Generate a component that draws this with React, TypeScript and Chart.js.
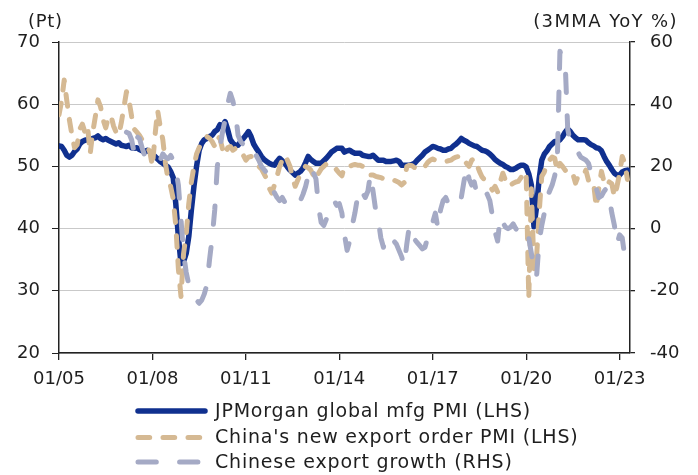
import React, { useEffect, useRef } from 'react';
import { Chart, registerables } from 'chart.js';

Chart.register(...registerables);

// Monthly data, Jan 2005 (index 0) .. Apr 2023 (index 219)
const X_TICK_MONTHS = [0, 36, 72, 108, 144, 180, 216];
const X_TICK_LABELS = ['01/05', '01/08', '01/11', '01/14', '01/17', '01/20', '01/23'];
const X_MAX_MONTH = 220;

const SERIES_NAMES = [
  'JPMorgan global mfg PMI (LHS)',
  "China's new export order PMI (LHS)",
  'Chinese export growth (RHS)',
];

const JPM_GLOBAL_PMI = [
  53.3, 53.2, 52.6, 51.8, 51.5, 51.8, 52.4, 52.8, 53.6, 54.0, 54.2, 54.3,
  54.3, 54.5, 54.6, 54.9, 54.5, 54.3, 54.5, 54.2, 54.0, 53.8, 53.6, 53.8,
  53.4, 53.3, 53.2, 53.4, 53.0, 52.9, 53.0, 52.7, 52.5, 52.3, 52.6, 52.3,
  52.0, 51.6, 51.2, 50.8, 50.5, 50.2, 49.9, 49.2, 48.2, 44.0, 38.7, 34.4,
  34.7, 36.0, 38.7, 43.0, 46.8, 50.0, 52.6, 53.7, 54.3, 54.5, 54.8, 55.0,
  55.6, 55.9, 56.7, 56.4, 57.2, 55.9, 54.3, 53.7, 53.4, 53.4, 54.0, 54.5,
  55.0, 55.6, 54.8, 53.6, 52.9, 52.3, 51.6, 51.1, 50.8, 50.5, 50.3, 50.2,
  50.8, 51.3, 50.9, 50.5, 49.9, 49.4, 49.0, 48.6, 48.9, 49.2, 49.7, 50.6,
  51.6, 51.1, 50.8, 50.5, 50.5, 50.5, 50.9, 51.3, 51.8, 52.3, 52.6, 52.9,
  52.9, 52.9, 52.3, 52.5, 52.6, 52.3, 52.1, 52.1, 52.1, 51.8, 51.7, 51.6,
  51.6, 51.8, 51.4, 51.0, 51.0, 51.0, 50.8, 50.8, 50.8, 50.9, 51.0, 50.8,
  50.2, 50.2, 50.2, 50.2, 50.3, 50.5, 51.0, 51.4, 51.8, 52.3, 52.6, 52.9,
  53.2, 53.1, 52.9, 52.8, 52.6, 52.6, 52.8, 52.9, 53.3, 53.6, 54.0, 54.5,
  54.2, 54.0, 53.7, 53.5, 53.3, 53.2, 52.9, 52.6, 52.5, 52.3, 52.0, 51.6,
  51.1, 50.8, 50.5, 50.3, 50.0, 49.8, 49.5, 49.5, 49.7, 50.0, 50.2, 50.2,
  49.9, 48.8, 47.0, 40.3, 43.5, 48.0, 51.0, 52.0, 52.5, 53.2, 53.6, 54.0,
  54.0, 54.3, 54.8, 55.5, 56.0, 55.6, 55.0, 54.6, 54.3, 54.3, 54.3, 54.2,
  53.8, 53.5, 53.3, 53.0, 52.9, 52.5, 51.6, 50.8, 50.2, 49.5, 48.9, 48.6,
  48.6, 49.1, 49.3, 49.4,
];

const CHINA_NEW_EXPORT_ORDERS = [
  58.3, 60.5, 63.9, 60.6, 57.5, 55.0, 53.0, 53.5, 56.0, 56.8, 55.5, 56.5,
  52.0, 55.5, 58.0, 60.7, 59.6, 57.5, 56.2, 57.8, 58.2, 56.5, 55.5, 55.0,
  57.0, 59.5, 62.0, 60.5, 58.0, 56.0, 55.5, 55.0, 54.3, 53.7, 53.2, 52.3,
  50.0, 55.0, 59.0, 56.4, 54.3, 50.5, 48.0, 46.8, 44.8, 40.5, 33.5, 29.1,
  36.0, 39.0, 44.0, 47.5, 50.0, 52.0, 53.0, 53.8, 54.3, 54.8, 54.5, 54.0,
  53.2, 54.8, 54.5, 52.8, 51.8, 53.0, 53.2, 52.6, 52.9, 53.0, 52.6, 51.8,
  51.0, 51.5, 51.6, 50.8, 50.3, 50.0, 49.6, 48.8, 48.0, 46.5, 45.7, 47.0,
  48.4, 50.0, 51.0, 51.8, 51.0, 50.0, 48.2, 46.8, 47.8, 48.8, 49.5, 50.0,
  49.8, 49.4, 48.6, 47.8, 48.9, 49.6, 50.0, 50.4, 50.5, 50.2, 50.0, 49.4,
  48.9, 48.5, 50.0, 49.9, 50.0, 50.2, 50.3, 50.2, 50.2, 50.0, 49.8, 49.5,
  48.6, 48.6, 48.4, 48.3, 48.2, 48.0, 47.8, 47.9, 47.8, 47.8, 47.6, 47.4,
  47.0, 47.4, 50.0, 50.2, 50.1, 49.8, 49.7, 49.6, 49.5, 50.0, 50.6, 51.0,
  51.2, 51.0, 51.0, 50.8, 50.8, 50.8, 50.9, 51.0, 51.3, 51.5, 51.6, 51.8,
  51.0, 50.5, 50.0, 51.0, 51.3, 50.3, 49.2, 48.3, 47.8, 47.3, 46.8, 46.2,
  46.8, 45.9, 47.5, 48.9, 47.8, 46.8, 47.0, 47.3, 47.5, 47.6, 48.2, 49.2,
  48.7, 28.7, 46.4, 33.5, 35.3, 42.6, 48.4, 49.1, 50.8, 51.0, 51.5, 51.3,
  49.2, 50.5, 50.0, 49.4, 48.9, 48.5, 48.8, 47.3, 48.4, 48.2, 48.5, 49.4,
  47.8, 48.0, 47.2, 43.5, 46.5, 49.2, 47.5, 46.8, 47.5, 47.2, 45.1, 46.8,
  48.9, 51.6, 50.5, 47.9,
];

const CHINA_EXPORT_GROWTH = [
  null, null, null, null, null, null, null, null, null, null, null, null,
  null, null, null, null, null, null, null, null, null, null, null, null,
  null, null, 31.0, 30.6, 28.5, 24.2, 29.6, 29.0, 26.0, 23.5, 22.5, 22.5,
  22.0, 23.0, 22.5, 22.0, 24.0, 23.0, 22.5, 23.5, 22.0, 19.0, 14.0, 3.0,
  -8.0, -14.0, -18.0, -20.0, -21.5, -23.0, -24.0, -23.0, -21.0, -18.0, -10.0, -3.0,
  6.0, 20.0, 26.0, 31.0, 35.0, 40.0, 43.5, 41.0, 37.0, 30.0, 28.0, 27.0,
  28.0, 27.0, 25.0, 24.5, 23.5, 22.0, 20.0, 19.0, 18.0, 17.0, 14.0, 11.5,
  10.0, 9.0, 10.0, 8.5, 7.5, 7.5, 7.5, 7.0, 8.0, 9.0, 11.0, 13.5,
  17.0, 20.0, 18.0, 16.0, 7.0, 2.0, 1.0, 3.0, 5.0, 7.0, 9.0, 7.5,
  8.0, 5.0, -2.0, -7.0, -4.0, 1.0, 5.0, 10.0, 13.0, 11.5, 10.0, 12.0,
  17.5, 12.0, 6.0, 3.0, -3.0, -6.0, -2.0, -3.0, -3.5, -4.0, -5.0, -7.0,
  -9.0, -12.0, -5.0, 1.0, -2.0, -3.5, -4.5, -5.5, -6.5, -6.0, -3.0, 0.0,
  2.0, 5.0, 0.0, 6.0, 9.0, 10.0, 8.0, 8.0, 7.5, 7.0, 9.0, 10.0,
  15.0, 20.0, 16.0, 14.0, 15.0, 11.0, 12.0, 13.0, 12.5, 11.0, 9.0, 4.0,
  -1.0, -4.0, 4.0, 2.0, 0.5, 0.0, 0.5, 1.5, 0.0, -1.0, -0.5, 0.5,
  -1.0, -3.0, -8.0, -13.0, -15.5, -4.0, 1.0, 5.0, 10.0, 12.0, 14.0, 17.0,
  22.0, 57.0, 55.0, 54.0, 32.0, 28.0, 26.0, 25.0, 24.5, 23.0, 22.5, 22.0,
  21.0, 18.0, 15.0, 13.0, 10.0, 10.5, 12.0, 13.0, 10.0, 5.0, 1.0, -5.0,
  -2.0, -3.0, -9.0, null,
];

const LEFT_TITLE = '(Pt)';
const RIGHT_TITLE = '(3MMA YoY %)';

const FONT = '"DejaVu Sans", "Noto Sans", sans-serif';
const TEXT_COLOR = '#1e1e1e';
const AXIS_COLOR = '#222222';
const BLUE = '#10308f';
const TAN = '#d5b993';
const GREY = '#a5aac5';

const toPoints = (arr: (number | null)[]) => arr.map((v, i) => ({ x: i, y: v }));

const overlayPlugin = {
  id: 'overlayTexts',
  afterDraw(chart: any) {
    const { ctx, chartArea } = chart;
    ctx.save();
    ctx.fillStyle = TEXT_COLOR;
    ctx.textBaseline = 'alphabetic';
    ctx.font = `18px ${FONT}`;
    (ctx as any).letterSpacing = '0.7px';
    ctx.textAlign = 'left';
    ctx.fillText(LEFT_TITLE, chartArea.left - 31, 26.5);
    (ctx as any).letterSpacing = '1.4px';
    ctx.textAlign = 'right';
    ctx.fillText(RIGHT_TITLE, chartArea.right + 48, 26.5);

    // legend, one row per series, left aligned
    const rowsY = [411, 437.5, 462];
    const x0 = 138;
    const x1 = 205;
    chart.data.datasets.forEach((ds: any, i: number) => {
      const y = rowsY[i];
      ctx.beginPath();
      ctx.lineWidth = ds.borderWidth;
      ctx.strokeStyle = ds.borderColor;
      ctx.lineCap = 'round';
      ctx.setLineDash(ds.borderDash || []);
      ctx.moveTo(x0, y);
      ctx.lineTo(x1, y);
      ctx.stroke();
      ctx.setLineDash([]);
      ctx.font = `19px ${FONT}`;
      (ctx as any).letterSpacing = '0.8px';
      ctx.textAlign = 'left';
      ctx.textBaseline = 'middle';
      ctx.fillStyle = TEXT_COLOR;
      ctx.fillText(ds.label, 215, y + 1);
    });
    ctx.restore();
  },
};

export default function App() {
  const canvasRef = useRef<HTMLCanvasElement | null>(null);

  useEffect(() => {
    if (!canvasRef.current) return;
    const tickFont = { family: FONT, size: 18 };
    const chart = new Chart(canvasRef.current, {
      type: 'line',
      data: {
        datasets: [
          {
            label: SERIES_NAMES[0],
            data: toPoints(JPM_GLOBAL_PMI),
            yAxisID: 'y',
            borderColor: BLUE,
            borderWidth: 5.5,
            borderCapStyle: 'round',
            borderJoinStyle: 'round',
            pointRadius: 0,
            tension: 0,
            order: 3,
          },
          {
            label: SERIES_NAMES[1],
            data: toPoints(CHINA_NEW_EXPORT_ORDERS),
            yAxisID: 'y',
            borderColor: TAN,
            borderWidth: 5,
            borderDash: [11.7, 13.3],
            borderCapStyle: 'round',
            borderJoinStyle: 'round',
            pointRadius: 0,
            tension: 0,
            order: 2,
          },
          {
            label: SERIES_NAMES[2],
            data: toPoints(CHINA_EXPORT_GROWTH),
            yAxisID: 'y1',
            borderColor: GREY,
            borderWidth: 5,
            borderDash: [18.3, 23.3],
            borderCapStyle: 'round',
            borderJoinStyle: 'round',
            pointRadius: 0,
            tension: 0,
            order: 1,
          },
        ] as any,
      },
      options: {
        animation: false,
        responsive: false,
        devicePixelRatio: 1,
        parsing: false,
        normalized: true,
        layout: { padding: { top: 42, left: 0, right: 0, bottom: 0 } },
        plugins: {
          legend: { display: false },
          tooltip: { enabled: false },
          title: { display: false },
        },
        scales: {
          x: {
            type: 'linear',
            min: 0,
            max: X_MAX_MONTH,
            afterBuildTicks: (axis: any) => {
              axis.ticks = X_TICK_MONTHS.map((v) => ({ value: v }));
            },
            afterFit: (axis: any) => {
              axis.height = 122;
            },
            ticks: {
              autoSkip: false,
              maxRotation: 0,
              padding: 9,
              color: TEXT_COLOR,
              font: tickFont,
              callback: (value: any) => {
                const idx = X_TICK_MONTHS.indexOf(Number(value));
                return idx >= 0 ? X_TICK_LABELS[idx] : '';
              },
            },
            grid: {
              drawOnChartArea: false,
              drawTicks: true,
              tickLength: 7,
              tickColor: AXIS_COLOR,
              lineWidth: 1.3,
            },
            border: { display: true, color: AXIS_COLOR, width: 1.5 },
          },
          y: {
            type: 'linear',
            position: 'left',
            min: 20,
            max: 70,
            afterFit: (axis: any) => {
              axis.width = 59;
            },
            ticks: {
              stepSize: 10,
              padding: 12,
              color: TEXT_COLOR,
              font: tickFont,
            },
            grid: {
              color: '#c9c9c9',
              lineWidth: 1,
              drawTicks: true,
              tickLength: 7,
              tickColor: AXIS_COLOR,
            },
            border: { display: true, color: AXIS_COLOR, width: 1.5 },
          },
          y1: {
            type: 'linear',
            position: 'right',
            min: -40,
            max: 60,
            afterFit: (axis: any) => {
              axis.width = 68;
            },
            ticks: {
              stepSize: 20,
              padding: 15,
              color: TEXT_COLOR,
              font: tickFont,
            },
            grid: {
              drawOnChartArea: false,
              drawTicks: true,
              tickLength: 5,
              tickColor: AXIS_COLOR,
              lineWidth: 1.3,
            },
            border: { display: true, color: AXIS_COLOR, width: 1.5 },
          },
        },
      } as any,
      plugins: [overlayPlugin],
    });
    return () => chart.destroy();
  }, []);

  return (
    <div style={{ position: 'absolute', left: 0, top: 0, width: 698, height: 475, background: '#ffffff' }}>
      <canvas ref={canvasRef} width={698} height={475} style={{ display: 'block' }} />
    </div>
  );
}
